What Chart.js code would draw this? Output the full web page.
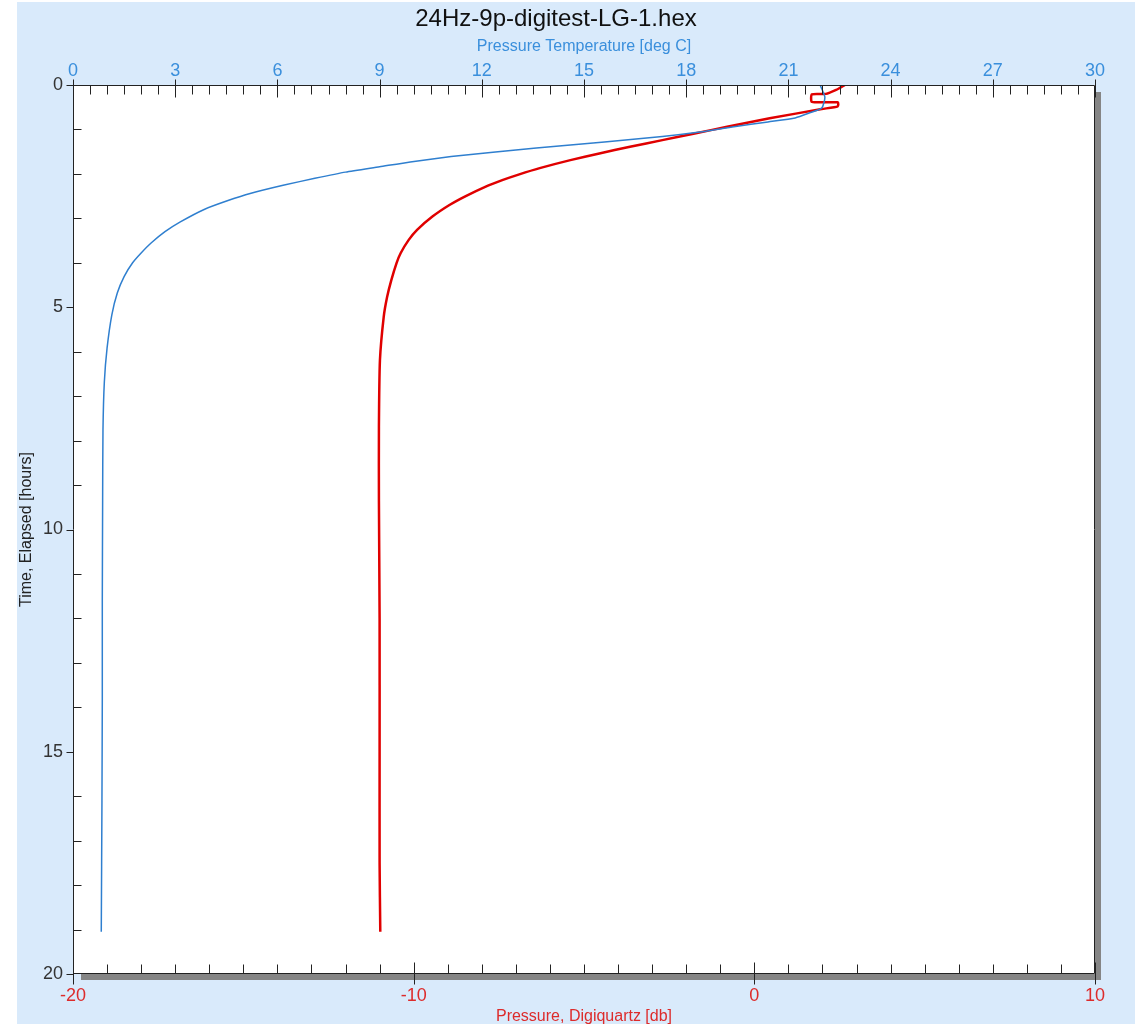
<!DOCTYPE html>
<html>
<head>
<meta charset="utf-8">
<title>24Hz-9p-digitest-LG-1.hex</title>
<script src="https://cdn.jsdelivr.net/npm/chart.js@4/dist/chart.umd.min.js"></script>
<style>
  html, body { margin: 0; padding: 0; background: #fff; }
</style>
</head>
<body>
<canvas id="chart" width="1135" height="1027"></canvas>
<script>
// Pressure temperature (top axis, deg C) vs elapsed hours
const tempHours = [0.00, 0.27, 0.52, 0.62, 0.74, 0.83, 0.94, 1.06, 1.16, 1.28, 1.42, 1.51, 1.61, 1.73, 1.84, 1.96, 2.10, 2.25, 2.44, 2.60, 2.80, 3.08, 3.30, 3.55, 3.78, 4.00, 4.31, 4.68, 5.17, 5.92, 6.68, 7.76, 9.34, 11.6, 13.8, 16.1, 19.05];
const tempDegC  = [21.93, 22.07, 21.98, 21.65, 21.20, 20.40, 19.40, 18.40, 17.30, 15.60, 13.60, 12.40, 11.10, 9.90, 9.00, 8.00, 7.10, 6.20, 5.20, 4.55, 3.85, 3.15, 2.70, 2.30, 2.00, 1.75, 1.50, 1.30, 1.14, 1.00, 0.92, 0.88, 0.87, 0.86, 0.86, 0.85, 0.83];

// Digiquartz pressure (bottom axis, db) vs elapsed hours
const presHours = [0.00, 0.11, 0.20, 0.21, 0.38, 0.39, 0.48, 0.54, 0.75, 0.94, 1.09, 1.24, 1.39, 1.54, 1.69, 1.87, 2.01, 2.14, 2.29, 2.51, 2.70, 2.96, 3.26, 3.49, 3.78, 4.00, 4.40, 4.77, 5.22, 6.19, 7.69, 9.34, 12.0, 15.0, 17.5, 19.05];
const presDb    = [2.66, 2.40, 2.10, 1.69, 1.69, 2.45, 2.45, 1.98, 0.45, -0.80, -1.75, -2.70, -3.65, -4.55, -5.40, -6.30, -6.90, -7.40, -7.90, -8.50, -8.95, -9.45, -9.90, -10.15, -10.38, -10.50, -10.66, -10.78, -10.88, -10.99, -11.02, -11.02, -11.00, -11.00, -11.00, -10.98];

const FONT = '"Liberation Sans", Arial, sans-serif';
const BLUE = '#3a8fdc';
const RED = '#dd2b2b';

function toPoints(xs, ys) {
  return ys.map((h, i) => ({ x: xs[i], y: h }));
}

// background, shadow, frame and tick marks
const framePlugin = {
  id: 'framePlugin',
  beforeDraw(chart) {
    const { ctx, chartArea: a } = chart;
    ctx.save();
    ctx.fillStyle = '#ffffff';
    ctx.fillRect(0, 0, chart.width, chart.height);
    ctx.fillStyle = '#d9eafb';
    ctx.fillRect(17, 2, chart.width - 17, chart.height - 5);
    ctx.fillStyle = '#858585';
    ctx.fillRect(a.left + 8, a.bottom, a.width - 2, 6);
    ctx.fillRect(a.right, a.top + 7, 6, a.height - 1);
    ctx.fillStyle = '#ffffff';
    ctx.fillRect(a.left, a.top, a.width, a.height);
    ctx.restore();
  },
  afterDraw(chart) {
    const { ctx, chartArea: a, scales } = chart;
    ctx.save();
    ctx.strokeStyle = '#222';
    ctx.lineWidth = 1;
    const line = (x1, y1, x2, y2) => {
      ctx.beginPath();
      ctx.moveTo(x1, y1);
      ctx.lineTo(x2, y2);
      ctx.stroke();
    };
    const L = Math.round(a.left) + 0.5, R = Math.round(a.right) - 0.5;
    const T = Math.round(a.top) + 0.5, B = Math.round(a.bottom) - 0.5;
    line(L, T, R, T);
    line(L, T, L, B);
    line(L, B, R, B);
    line(R, T, R, B);

    // left axis: hours
    for (let v = 0; v <= 20; v++) {
      const y = Math.round(scales.y.getPixelForValue(v)) + 0.5;
      if (v % 5 === 0) line(L - 7, y, L, y);
      else line(L, y, L + 8, y);
    }
    // top axis: temperature
    for (let v = 0; v <= 60; v++) {
      const x = Math.round(scales.xT.getPixelForValue(v / 2)) + 0.5;
      if (v % 6 === 0) line(x, T - 6, x, T + 12);
      else line(x, T, x, T + 9);
    }
    // bottom axis: pressure
    for (let v = -20; v <= 10; v++) {
      const x = Math.round(scales.x.getPixelForValue(v)) + 0.5;
      if (v % 10 === 0) line(x, B - 11, x, B + 11);
      else line(x, B - 9, x, B);
    }
    ctx.restore();
  }
};

new Chart(document.getElementById('chart'), {
  type: 'scatter',
  data: {
    datasets: [
      {
        label: 'Pressure Temperature [deg C]',
        data: toPoints(tempDegC, tempHours),
        xAxisID: 'xT',
        showLine: true,
        borderColor: '#2f7fcf',
        borderWidth: 1.5,
        pointRadius: 0,
        tension: 0.2
      },
      {
        label: 'Pressure, Digiquartz [db]',
        data: toPoints(presDb, presHours),
        xAxisID: 'x',
        showLine: true,
        borderColor: '#e00000',
        borderWidth: 2.5,
        pointRadius: 0,
        tension: 0.2
      }
    ]
  },
  options: {
    responsive: false,
    animation: false,
    layout: { padding: { left: 17, top: 2, right: 40, bottom: 1 } },
    plugins: {
      legend: { display: false },
      tooltip: { enabled: false },
      title: {
        display: true,
        text: '24Hz-9p-digitest-LG-1.hex',
        color: '#111',
        font: { family: FONT, size: 24, weight: 'normal' },
        padding: { top: 3, bottom: 0 }
      }
    },
    scales: {
      x: {
        type: 'linear',
        position: 'bottom',
        min: -20,
        max: 10,
        grid: { display: false, drawTicks: false },
        border: { display: false },
        ticks: { stepSize: 10, autoSkip: false, color: RED, padding: 11, font: { family: FONT, size: 18 } },
        title: { display: true, text: 'Pressure, Digiquartz [db]', color: RED, padding: 0, font: { family: FONT, size: 16 } },
        afterFit(scale) { scale.height = 52; }
      },
      xT: {
        type: 'linear',
        position: 'top',
        min: 0,
        max: 30,
        grid: { display: false, drawTicks: false },
        border: { display: false },
        ticks: { stepSize: 3, autoSkip: false, color: BLUE, padding: 3, font: { family: FONT, size: 18 } },
        title: { display: true, text: 'Pressure Temperature [deg C]', color: BLUE, padding: { top: 3.6, bottom: 0 }, font: { family: FONT, size: 16 } },
        afterFit(scale) { scale.height = 51.2; }
      },
      y: {
        type: 'linear',
        reverse: true,
        min: 0,
        max: 20,
        grid: { display: false, drawTicks: false },
        border: { display: false },
        ticks: { stepSize: 5, autoSkip: false, color: '#333', padding: 10, font: { family: FONT, size: 18 } },
        title: { display: true, text: 'Time, Elapsed [hours]', color: '#222', padding: 0, font: { family: FONT, size: 16 } },
        afterFit(scale) { scale.width = 56; }
      }
    }
  },
  plugins: [framePlugin]
});
</script>
</body>
</html>
